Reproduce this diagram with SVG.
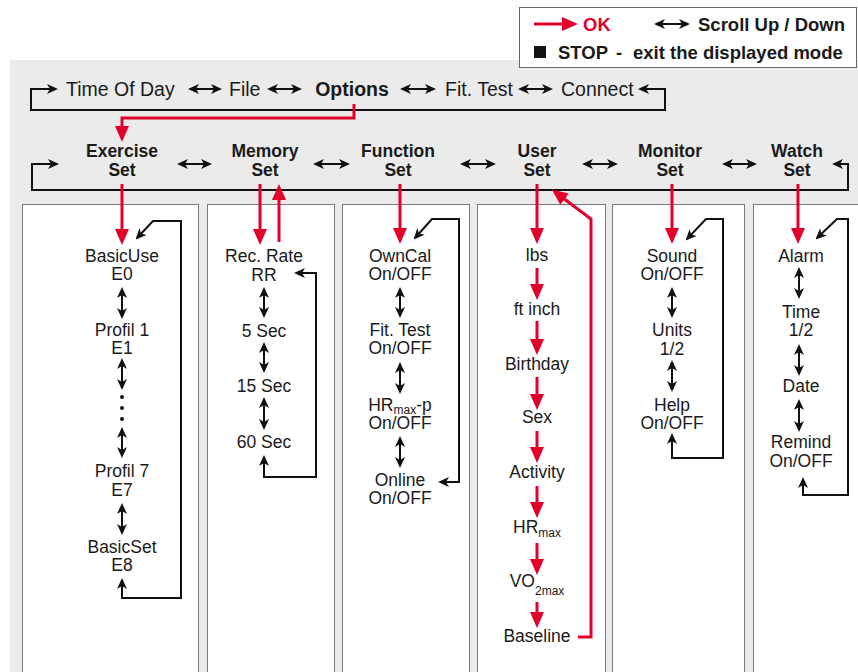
<svg xmlns="http://www.w3.org/2000/svg" width="858" height="672" viewBox="0 0 858 672">
<defs>
<marker id="rh" markerUnits="userSpaceOnUse" viewBox="0 0 16 14" markerWidth="16" markerHeight="14" refX="12" refY="7" orient="auto-start-reverse"><path d="M0,0 L16,7 L0,14 z" fill="#e2002b"/></marker>
<marker id="bh" markerUnits="userSpaceOnUse" viewBox="0 0 11 10" markerWidth="11" markerHeight="10" refX="9" refY="5" orient="auto-start-reverse"><path d="M0,0 L11,5 L0,10 L3,5 z" fill="#111"/></marker>
<style>
text{font-family:"Liberation Sans",Arial,sans-serif;fill:#1a1a1a}
.t{font-size:19.5px}
.tb{font-size:19.5px;font-weight:bold}
.h{font-size:17.5px;font-weight:bold;text-anchor:middle}
.n{font-size:17.5px;text-anchor:middle}
.s{font-size:12px}
.lg{font-size:18.5px;font-weight:bold}
.k{fill:none;stroke:#111;stroke-width:2}
.d{fill:none;stroke:#111;stroke-width:2;marker-start:url(#bh);marker-end:url(#bh)}
.r{fill:none;stroke:#e2002b;stroke-width:3;marker-end:url(#rh)}
.p{fill:#fff;stroke:#7a7a7a;stroke-width:1}
</style>
</defs>
<rect x="10" y="60" width="848" height="612" fill="#ebebeb"/>
<g id="legend">
<rect x="519.5" y="7.5" width="337" height="60" fill="#fff" stroke="#666"/>
<path class="r" d="M534,24 H574"/>
<text class="lg" x="583" y="31" style="fill:#e2002b">OK</text>
<path class="d" d="M656,24 H688"/>
<text class="lg" x="698" y="31">Scroll Up / Down</text>
<rect x="534" y="46" width="12" height="12" fill="#111"/>
<text class="lg" x="558" y="59">STOP</text>
<text class="lg" x="616" y="59">-</text>
<text class="lg" x="633" y="59">exit the displayed mode</text>
</g>
<g id="panels">
<rect class="p" x="22.5" y="204.5" width="176" height="480"/>
<rect class="p" x="207.5" y="204.5" width="127" height="480"/>
<rect class="p" x="342.5" y="204.5" width="127" height="480"/>
<rect class="p" x="477.5" y="204.5" width="128" height="480"/>
<rect class="p" x="612.5" y="204.5" width="132" height="480"/>
<rect class="p" x="753.5" y="204.5" width="120" height="480"/>
</g>
<g id="top-menu">
<text class="t" x="66" y="96">Time Of Day</text>
<text class="t" x="229" y="96">File</text>
<text class="tb" x="352" y="96" text-anchor="middle">Options</text>
<text class="t" x="445" y="96">Fit. Test</text>
<text class="t" x="561" y="96">Connect</text>
</g>
<g id="headers">
<g id="exercise-set"><text class="h" x="122" y="157">Exercise</text><text class="h" x="122" y="176">Set</text></g>
<g id="memory-set"><text class="h" x="265" y="157">Memory</text><text class="h" x="265" y="176">Set</text></g>
<g id="function-set"><text class="h" x="398" y="157">Function</text><text class="h" x="398" y="176">Set</text></g>
<g id="user-set"><text class="h" x="537" y="157">User</text><text class="h" x="537" y="176">Set</text></g>
<g id="monitor-set"><text class="h" x="670" y="157">Monitor</text><text class="h" x="670" y="176">Set</text></g>
<g id="watch-set"><text class="h" x="797" y="157">Watch</text><text class="h" x="797" y="176">Set</text></g>
</g>
<g id="col-exercise">
<text class="n" x="122" y="262">BasicUse</text><text class="n" x="122" y="280">E0</text>
<text class="n" x="122" y="336">Profil 1</text><text class="n" x="122" y="354">E1</text>
<circle cx="122" cy="397" r="2" fill="#111"/><circle cx="122" cy="408" r="2" fill="#111"/><circle cx="122" cy="419" r="2" fill="#111"/>
<text class="n" x="122" y="477">Profil 7</text><text class="n" x="122" y="496">E7</text>
<text class="n" x="122" y="553">BasicSet</text><text class="n" x="122" y="571">E8</text>
</g>
<g id="col-memory">
<text class="n" x="264" y="262">Rec. Rate</text><text class="n" x="264" y="281">RR</text>
<text class="n" x="264" y="337">5 Sec</text>
<text class="n" x="264" y="392">15 Sec</text>
<text class="n" x="264" y="448">60 Sec</text>
</g>
<g id="col-function">
<text class="n" x="400" y="262">OwnCal</text><text class="n" x="400" y="280">On/OFF</text>
<text class="n" x="400" y="336">Fit. Test</text><text class="n" x="400" y="354">On/OFF</text>
<text class="n" x="400" y="411">HR<tspan class="s" dy="3">max</tspan><tspan dy="-3">-p</tspan></text><text class="n" x="400" y="429">On/OFF</text>
<text class="n" x="400" y="486">Online</text><text class="n" x="400" y="504">On/OFF</text>
</g>
<g id="col-user">
<text class="n" x="537" y="261">lbs</text>
<text class="n" x="537" y="315">ft inch</text>
<text class="n" x="537" y="370">Birthday</text>
<text class="n" x="537" y="423">Sex</text>
<text class="n" x="537" y="478">Activity</text>
<text class="n" x="537" y="533">HR<tspan class="s" dy="4">max</tspan></text>
<text class="n" x="537" y="587">VO<tspan class="s" dy="8">2max</tspan></text>
<text class="n" x="537" y="642">Baseline</text>
</g>
<g id="col-monitor">
<text class="n" x="672" y="262">Sound</text><text class="n" x="672" y="280">On/OFF</text>
<text class="n" x="672" y="336">Units</text><text class="n" x="672" y="355">1/2</text>
<text class="n" x="672" y="411">Help</text><text class="n" x="672" y="429">On/OFF</text>
</g>
<g id="col-watch">
<text class="n" x="801" y="262">Alarm</text>
<text class="n" x="801" y="318">Time</text><text class="n" x="801" y="336">1/2</text>
<text class="n" x="801" y="392">Date</text>
<text class="n" x="801" y="448">Remind</text><text class="n" x="801" y="467">On/OFF</text>
</g>
<g id="connectors">
<path class="d" d="M640,89 H665 V110 H31 V89 H56"/>
<path class="d" d="M190,89 H220"/><path class="d" d="M269,89 H300"/><path class="d" d="M402,89 H434"/><path class="d" d="M520,89 H551"/>
<path class="r" d="M354,104 V118 H122 V138"/>
<path class="d" d="M834,164 H848 V190 H32 V164 H57"/>
<path class="d" d="M179,164 H210"/><path class="d" d="M315,164 H348"/><path class="d" d="M462,164 H494"/><path class="d" d="M584,164 H616"/><path class="d" d="M724,164 H755"/>
<path class="r" d="M122,184 V241"/>
<path class="r" d="M260,184 V241"/>
<path class="r" d="M279,242 V188"/>
<path class="r" d="M400,184 V240"/>
<path class="r" d="M537,184 V240"/>
<path class="r" d="M672,184 V240"/>
<path class="r" d="M798,184 V240"/>
<path class="d" d="M122,289 V317"/><path class="d" d="M122,360 V388"/><path class="d" d="M122,429 V456"/><path class="d" d="M122,505 V533"/>
<path class="d" d="M137,238 L153,221 H181 V598 H122 V580"/>
<path class="d" d="M264,289 V316"/><path class="d" d="M264,344 V371"/><path class="d" d="M264,399 V428"/>
<path class="d" d="M296,273 H316 V477 H264 V457"/>
<path class="d" d="M400,289 V316"/><path class="d" d="M400,364 V392"/><path class="d" d="M400,438 V466"/>
<path class="d" d="M415,238 L432,219 H459 V482 H440"/>
<path class="r" d="M537,268 V296"/><path class="r" d="M537,321 V351"/><path class="r" d="M537,377 V406"/><path class="r" d="M537,431 V459"/><path class="r" d="M537,486 V514"/><path class="r" d="M537,543 V571"/><path class="r" d="M537,602 V624"/>
<path class="r" d="M578,637 H591 V219 L555,192"/>
<path class="d" d="M672,289 V316"/><path class="d" d="M672,362 V390"/>
<path class="d" d="M687,239 L706,219 H723 V458 H672 V435"/>
<path class="d" d="M799,269 V297"/><path class="d" d="M799,346 V374"/><path class="d" d="M799,401 V430"/>
<path class="d" d="M817,238 L837,219 H848 V495 H803 V479"/>
</g>
</svg>
